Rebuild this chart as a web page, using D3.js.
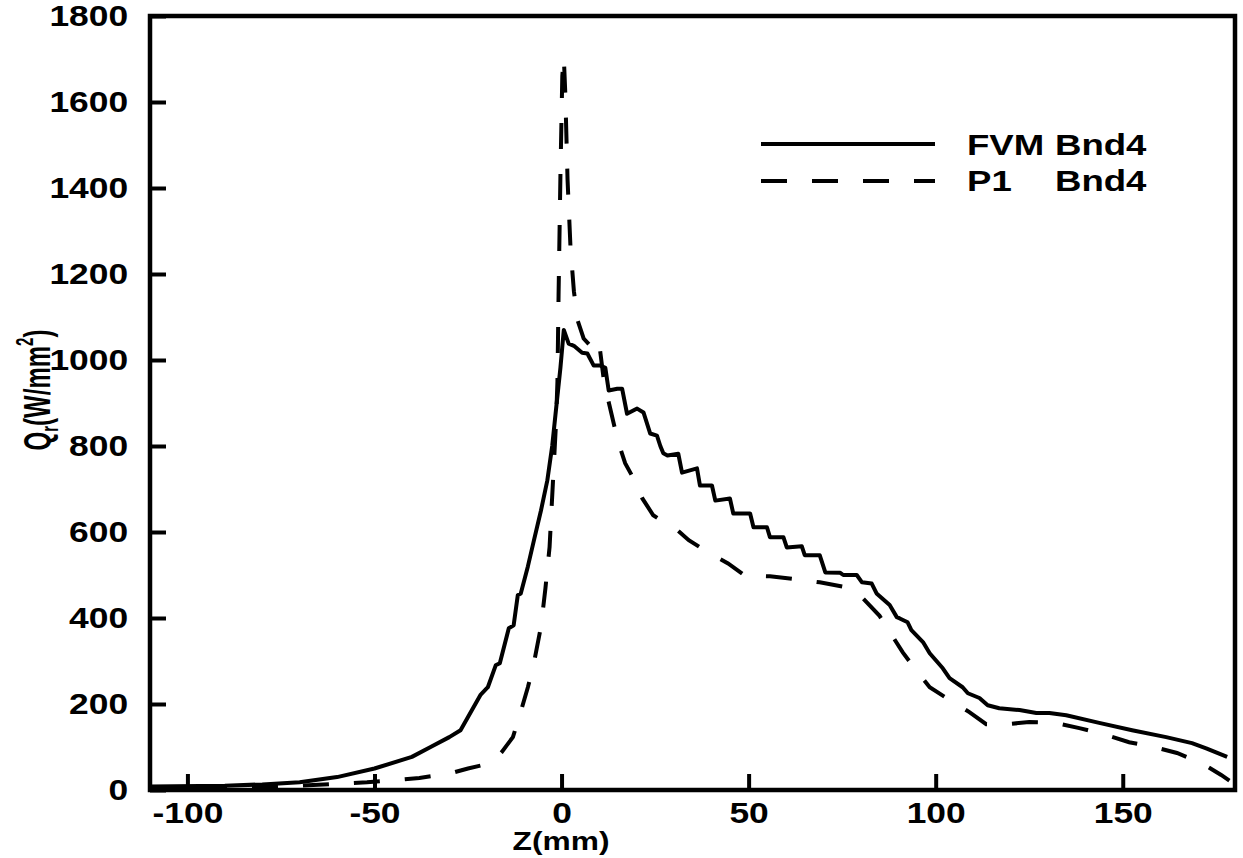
<!DOCTYPE html>
<html>
<head>
<meta charset="utf-8">
<script src="https://cdn.jsdelivr.net/npm/d3@7/dist/d3.min.js"></script>
<style>
  body { margin: 0; background: white; }
  text { font-family: "Liberation Sans", Arial, Helvetica, sans-serif; font-weight: bold; fill: black; }
</style>
</head>
<body>
<div id="chart"></div>
<script>
// FVM Bnd4 (solid)
const fvmZ = [-110, -90, -80, -70, -60, -50, -40, -35, -30, -27, -25, -21.6, -19.7, -17.6, -16.5, -14.1, -12.8, -11.7, -10.9, -9, -7.4, -5.5, -3.8, -2.5, -1.6, -0.3, 0.6, 1.9, 3.3, 5.5, 6.9, 8.6, 10.4, 11.7, 12.6, 14.9, 16.2, 17.5, 20.2, 21.9, 23.7, 25.5, 26.4, 27.2, 28.3, 31.2, 32.2, 36.2, 37, 40.2, 41.1, 45, 45.9, 50.4, 51.3, 54.9, 55.7, 59.3, 60.2, 64.2, 65, 69, 70.5, 74.5, 75.3, 78.9, 80.3, 82.9, 84.2, 87.7, 89.6, 90.4, 92.5, 93.5, 96.6, 98.4, 101.9, 103.7, 107.2, 108.6, 111.7, 113.9, 117, 122.4, 126.9, 130.4, 134.9, 143.7, 152.5, 161.6, 168.5, 172.3, 177.9];
const fvmQ = [8, 10, 13, 18, 30, 50, 77, 100, 123, 139, 170, 222, 239, 290, 295, 376, 383, 453, 457, 520, 580, 650, 720, 800, 875, 982, 1070, 1038, 1033, 1017, 1015, 987, 987, 982, 929, 933, 933, 875, 887, 878, 829, 824, 800, 783, 778, 782, 738, 748, 708, 708, 673, 678, 643, 643, 611, 611, 588, 588, 564, 567, 546, 546, 506, 505, 500, 500, 483, 480, 457, 430, 402, 399, 390, 372, 344, 318, 283, 260, 239, 225, 214, 197, 190, 186, 179, 179, 174, 156, 139, 123, 109, 97, 77];

// P1 Bnd4 (dashed)
const p1Z = [-110, -90, -75, -65, -52, -38, -30, -25, -21, -18, -16, -13, -11, -9, -7.5, -5.5, -4.3, -3.2, -2.7, -2.1, -1.5, -1.1, -0.8, -0.3, 0.2, 0.6, 1.0, 1.6, 2.4, 3.3, 4.3, 5.9, 7.5, 9.9, 11.2, 12.5, 15, 17, 19.2, 21.6, 24.5, 27, 30, 34, 39.7, 44.5, 49.6, 52.5, 55.7, 62.9, 69, 76.3, 80.5, 85, 91.2, 94.4, 98.4, 102.9, 109, 113.5, 118.9, 125, 132, 138.4, 145.6, 151.7, 158.4, 164.5, 171, 176.3, 178.5];
const p1Q = [4, 5, 8, 12, 18, 28, 38, 50, 58, 70, 88, 123, 179, 239, 290, 380, 470, 565, 650, 750, 850, 950, 1150, 1430, 1660, 1705, 1620, 1420, 1260, 1160, 1092, 1050, 1035, 1050, 960, 906, 813, 760, 725, 678, 639, 625, 612, 581, 550, 527, 495, 498, 497, 490, 483, 471, 446, 405, 320, 283, 239, 214, 181, 153, 153, 158, 156, 144, 128, 111, 100, 86, 63, 35, 22];

const xTicks = [-100, -50, 0, 50, 100, 150];
const yTicks = [0, 200, 400, 600, 800, 1000, 1200, 1400, 1600, 1800];
const legendNames = ["FVM", "P1"];

const W = 1243, H = 858;
const plot = {left: 150, right: 1235, top: 16, bottom: 790};
const stretch = 1.22;

const x = d3.scaleLinear().domain([-110, 180]).range([plot.left, plot.right]);
const y = d3.scaleLinear().domain([0, 1800]).range([plot.bottom, plot.top]);

const svg = d3.select("#chart").append("svg")
    .attr("width", W).attr("height", H);

svg.append("rect").attr("width", W).attr("height", H).attr("fill", "white");

svg.append("clipPath").attr("id", "clip")
  .append("rect")
    .attr("x", plot.left).attr("y", plot.top)
    .attr("width", plot.right - plot.left).attr("height", plot.bottom - plot.top);

// axes with inward ticks, plain hyphen minus and no thousands comma
const plain = d => String(d);
const xAxis = d3.axisBottom(x).tickValues(xTicks).tickFormat(plain)
    .tickSizeInner(-16).tickSizeOuter(0).tickPadding(12);
const yAxis = d3.axisLeft(y).tickValues(yTicks).tickFormat(plain)
    .tickSizeInner(-16).tickSizeOuter(0).tickPadding(18);

const gx = svg.append("g").attr("transform", `translate(0,${plot.bottom})`).call(xAxis);
const gy = svg.append("g").attr("transform", `translate(${plot.left},0)`).call(yAxis);

[gx, gy].forEach(g => {
  g.select(".domain").remove();
  g.selectAll(".tick line").attr("stroke", "black").attr("stroke-width", 4);
  g.selectAll(".tick text")
    .attr("fill", "black")
    .style("font-size", "29px")
    .attr("transform", `scale(${stretch},1)`);
});

// frame
svg.append("rect")
    .attr("x", plot.left).attr("y", plot.top)
    .attr("width", plot.right - plot.left).attr("height", plot.bottom - plot.top)
    .attr("fill", "none").attr("stroke", "black").attr("stroke-width", 4.5);

// curves
const line = d3.line().x(d => x(d[0])).y(d => y(d[1]));
const fvm = fvmZ.map((z, i) => [z, fvmQ[i]]);
const p1 = p1Z.map((z, i) => [z, p1Q[i]]);

const curves = svg.append("g").attr("clip-path", "url(#clip)");
curves.append("path").datum(fvm)
    .attr("d", line).attr("fill", "none")
    .attr("stroke", "black").attr("stroke-width", 4).attr("stroke-linejoin", "round");
curves.append("path").datum(p1)
    .attr("d", line).attr("fill", "none")
    .attr("stroke", "black").attr("stroke-width", 4)
    .attr("stroke-dasharray", "26,25");

// legend
const leg = svg.append("g");
leg.append("line").attr("x1", 761).attr("x2", 935).attr("y1", 144).attr("y2", 144)
    .attr("stroke", "black").attr("stroke-width", 4);
leg.append("line").attr("x1", 761).attr("x2", 935).attr("y1", 181).attr("y2", 181)
    .attr("stroke", "black").attr("stroke-width", 4).attr("stroke-dasharray", "26,25");

function stretchedText(g, px, py, str, size) {
  return g.append("text")
      .attr("transform", `translate(${px},${py}) scale(${stretch},1)`)
      .style("font-size", size + "px")
      .text(str);
}
stretchedText(leg, 967, 155, legendNames[0], 30);
stretchedText(leg, 1055, 155, "Bnd4", 30);
stretchedText(leg, 967, 191, legendNames[1], 30);
stretchedText(leg, 1055, 191, "Bnd4", 30);

// x title
svg.append("text")
    .attr("transform", `translate(561,850) scale(${stretch},1)`)
    .attr("text-anchor", "middle")
    .style("font-size", "26px")
    .text("Z(mm)");

// y title
const yt = svg.append("text")
    .attr("transform", "translate(50,390) rotate(-90) scale(1,1.55)")
    .attr("text-anchor", "middle")
    .style("font-size", "24px");
yt.append("tspan").text("Q");
yt.append("tspan").attr("dy", 5).style("font-size", "15px").text("r");
yt.append("tspan").attr("dy", -5).text("(W/mm");
yt.append("tspan").attr("dy", -11).style("font-size", "15px").text("2");
yt.append("tspan").attr("dy", 11).text(")");
</script>
</body>
</html>
